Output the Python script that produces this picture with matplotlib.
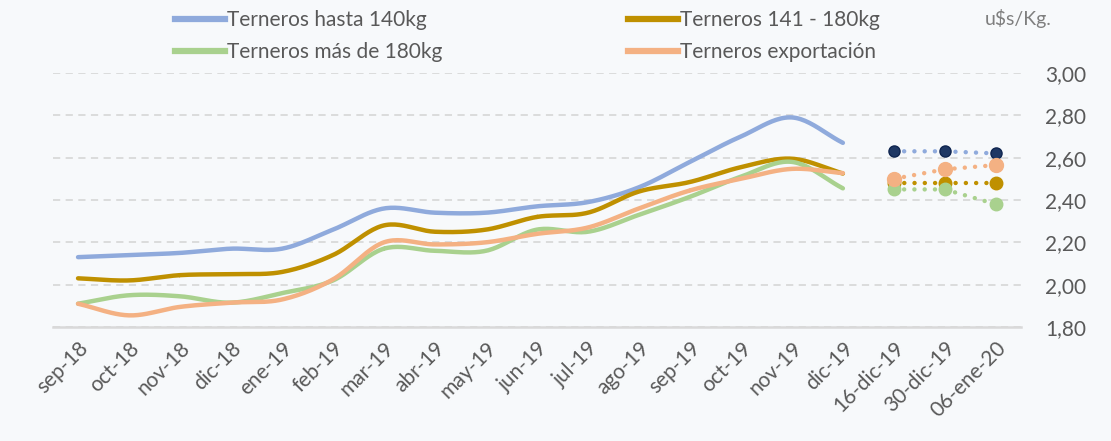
import numpy as np
import matplotlib
matplotlib.use('Agg')
import matplotlib.pyplot as plt
from matplotlib.lines import Line2D

plt.rcParams['font.family'] = ['Lato', 'DejaVu Sans']

labels = ['sep-18', 'oct-18', 'nov-18', 'dic-18', 'ene-19', 'feb-19', 'mar-19', 'abr-19',
          'may-19', 'jun-19', 'jul-19', 'ago-19', 'sep-19', 'oct-19', 'nov-19', 'dic-19',
          '16-dic-19', '30-dic-19', '06-ene-20']

# monthly values (sep-18 .. dic-19)
hasta140 = [2.13, 2.14, 2.15, 2.17, 2.17, 2.26, 2.36, 2.34, 2.34, 2.37, 2.39, 2.46, 2.58, 2.70, 2.79, 2.67]
t141_180 = [2.03, 2.02, 2.045, 2.05, 2.06, 2.14, 2.28, 2.25, 2.26, 2.32, 2.34, 2.44, 2.485, 2.555, 2.595, 2.525]
mas180 = [1.91, 1.95, 1.945, 1.915, 1.96, 2.02, 2.17, 2.16, 2.16, 2.26, 2.25, 2.33, 2.415, 2.51, 2.58, 2.455]
export = [1.91, 1.855, 1.895, 1.915, 1.93, 2.025, 2.20, 2.19, 2.20, 2.24, 2.27, 2.36, 2.445, 2.50, 2.547, 2.527]

# weekly values (16-dic-19, 30-dic-19, 06-ene-20)
hasta140_w = [2.63, 2.63, 2.62]
t141_180_w = [2.48, 2.48, 2.48]
mas180_w = [2.45, 2.45, 2.38]
export_w = [2.50, 2.545, 2.565]

names = ['Terneros hasta 140kg', 'Terneros 141 - 180kg', 'Terneros más de 180kg', 'Terneros exportación']
colors = ['#8faadc', '#bf9000', '#a9d18e', '#f4b183']
mk_face = ['#1f3864', '#bf9000', '#a9d18e', '#f4b183']
mk_edge = ['#0f2550', '#bf9000', '#a9d18e', '#f4b183']
mk_size = [8, 9, 9, 10]


def smooth(x, y, n=24):
    # Catmull-Rom style smoothing like Excel's smoothed line
    x = np.asarray(x, float)
    y = np.asarray(y, float)
    px = np.concatenate([[2 * x[0] - x[1]], x, [2 * x[-1] - x[-2]]])
    py = np.concatenate([[2 * y[0] - y[1]], y, [2 * y[-1] - y[-2]]])
    xs, ys = [], []
    t = np.linspace(0, 1, n)
    for i in range(1, len(px) - 2):
        for p, out in ((px, xs), (py, ys)):
            p0, p1, p2, p3 = p[i - 1], p[i], p[i + 1], p[i + 2]
            out.append(0.5 * ((2 * p1) + (-p0 + p2) * t + (2 * p0 - 5 * p1 + 4 * p2 - p3) * t ** 2
                              + (-p0 + 3 * p1 - 3 * p2 + p3) * t ** 3))
    return np.concatenate(xs), np.concatenate(ys)


bg = '#f7f9fb'
fig = plt.figure(figsize=(11.11, 4.41), dpi=100, facecolor=bg)
ax = fig.add_axes([0.0473, 0.2585, 0.872, 0.576], facecolor=bg)

monthly = [hasta140, t141_180, mas180, export]
weekly = [hasta140_w, t141_180_w, mas180_w, export_w]
xm = np.arange(len(hasta140))
xw = np.arange(len(hasta140), len(labels))

for i in range(4):
    sx, sy = smooth(xm, monthly[i])
    ax.plot(sx, sy, color=colors[i], lw=3.2, solid_capstyle='round', zorder=3 + i)

for i in range(4):
    ax.plot(xw, weekly[i], color=colors[i], lw=3.2, linestyle=(0, (0.01, 2.3)),
            dash_capstyle='round', zorder=3 + i)
    ax.plot(xw, weekly[i], linestyle='none', marker='o', ms=mk_size[i],
            mfc=mk_face[i], mec=mk_edge[i], mew=1.0, zorder=8 + i)

ax.set_xlim(-0.5, len(labels) - 0.5)
ax.set_ylim(1.80, 3.00)
ax.set_yticks(np.arange(1.8, 3.01, 0.2))
ax.set_yticklabels([f'{v:.2f}'.replace('.', ',') for v in np.arange(1.8, 3.01, 0.2)])
ax.yaxis.tick_right()
ax.tick_params(axis='y', length=0, pad=17, labelsize=15, labelcolor='#595959')
ax.set_xticks(range(len(labels)))
ax.set_xticklabels(labels, rotation=45, ha='right', rotation_mode='anchor')
ax.tick_params(axis='x', length=0, pad=8, labelsize=15, labelcolor='#595959')

ax.grid(axis='y', color='#d9d9d9', linestyle=(0, (4, 3)), lw=1.3)
for s in ['top', 'left', 'right']:
    ax.spines[s].set_visible(False)
ax.spines['bottom'].set_color('#d9d9d9')
ax.spines['bottom'].set_linewidth(1.8)

# legend fills column-wise, so reorder to get rows like the original
order = [0, 2, 1, 3]
handles = [Line2D([], [], color=colors[k], lw=4.5) for k in order]
fig.legend(handles, [names[k] for k in order], ncol=2, loc='upper left',
           bbox_to_anchor=(0.141, 1.02), frameon=False, fontsize=15, labelcolor='#595959',
           handlelength=2.4, handletextpad=0.1, columnspacing=8.9, labelspacing=0.6)

fig.text(0.886, 0.958, 'u$s/Kg.', fontsize=14, color='#7f7f7f', va='center')

fig.savefig('out.png', dpi=100, facecolor=bg)
